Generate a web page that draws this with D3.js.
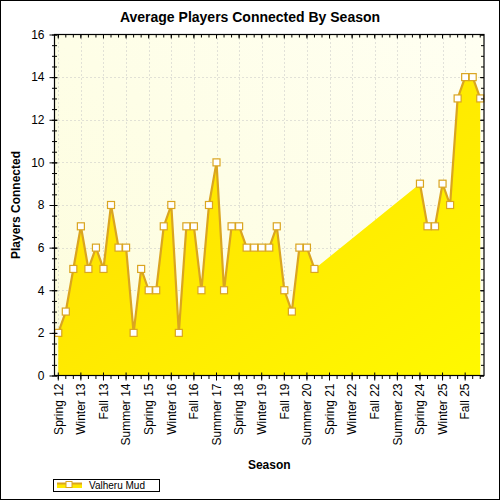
<!DOCTYPE html>
<html>
<head>
<meta charset="utf-8">
<script src="https://cdn.jsdelivr.net/npm/d3@7"></script>
<style>
  html, body { margin: 0; padding: 0; background: #fff; }
  svg { display: block; font-family: "Liberation Sans", Arial, sans-serif; }
</style>
</head>
<body>
<svg id="chart" width="500" height="500"></svg>
<script>
// ---- data ----
const categories = [
  "Spring 12","Summer 12","Fall 12","Winter 13",
  "Spring 13","Summer 13","Fall 13","Winter 14",
  "Spring 14","Summer 14","Fall 14","Winter 15",
  "Spring 15","Summer 15","Fall 15","Winter 16",
  "Spring 16","Summer 16","Fall 16","Winter 17",
  "Spring 17","Summer 17","Fall 17","Winter 18",
  "Spring 18","Summer 18","Fall 18","Winter 19",
  "Spring 19","Summer 19","Fall 19","Winter 20",
  "Spring 20","Summer 20","Fall 20","Winter 21",
  "Spring 21","Summer 21","Fall 21","Winter 22",
  "Spring 22","Summer 22","Fall 22","Winter 23",
  "Spring 23","Summer 23","Fall 23","Winter 24",
  "Spring 24","Summer 24","Fall 24","Winter 25",
  "Spring 25","Summer 25","Fall 25","Winter 26",
  "Spring 26"
];
const playersConnected = [
  2,3,5,7,5,6,5,8,6,6,2,5,4,4,7,8,2,7,7,4,
  8,10,4,7,7,6,6,6,6,7,4,3,6,6,5,
  null,null,null,null,null,null,null,null,null,null,null,null,null,
  9,7,7,9,8,13,14,14,13
];
const xTickLabels = [
  "Spring 12","Winter 13","Fall 13","Summer 14","Spring 15","Winter 16","Fall 16",
  "Summer 17","Spring 18","Winter 19","Fall 19","Summer 20","Spring 21","Winter 22",
  "Fall 22","Summer 23","Spring 24","Winter 25","Fall 25"
];
const yTicks = [0,2,4,6,8,10,12,14,16];
const yMinorTicks = [0,0.5,1,1.5,2,2.5,3,3.5,4,4.5,5,5.5,6,6.5,7,7.5,8,8.5,9,9.5,10,10.5,11,11.5,12,12.5,13,13.5,14,14.5,15,15.5,16];
const seriesName = "Valheru Mud";
const title = "Average Players Connected By Season";
const xTitle = "Season";
const yTitle = "Players Connected";

// ---- layout ----
const L = 54.5, R = 484, T = 34.5, B = 375.5;
const LINE = "#DAA520";

const svg = d3.select("#chart");
const data = categories.map((c, i) => ({ c, v: playersConnected[i] }));

const x = d3.scaleBand().domain(categories).range([L, R]).padding(0);
const cx = c => x(c) + x.bandwidth() / 2;
const y = d3.scaleLinear().domain([0, 16]).range([B, T]);

// defs
const defs = svg.append("defs");
const bg = defs.append("linearGradient").attr("id", "bg")
  .attr("x1", 0).attr("y1", 1).attr("x2", 1).attr("y2", 0);
bg.append("stop").attr("offset", 0).attr("stop-color", "#FDFDDC");
bg.append("stop").attr("offset", 1).attr("stop-color", "#FFFFF2");
const ag = defs.append("linearGradient").attr("id", "areaGrad")
  .attr("x1", 0).attr("y1", 0).attr("x2", 1).attr("y2", 1);
ag.append("stop").attr("offset", 0).attr("stop-color", "#FFDB00");
ag.append("stop").attr("offset", 1).attr("stop-color", "#FFF900");

// outer border
svg.append("rect").attr("x", 0.5).attr("y", 0.5).attr("width", 499).attr("height", 499)
  .attr("fill", "#fff").attr("stroke", "#000").attr("stroke-width", 1);

// plot background
svg.append("rect").attr("x", L).attr("y", T).attr("width", R - L).attr("height", B - T)
  .attr("fill", "url(#bg)");

// grid
const grid = svg.append("g").attr("stroke", "#C4C4C4").attr("stroke-width", 1)
  .attr("stroke-dasharray", "1,3");
grid.selectAll("line.h").data(yTicks.slice(1, -1)).enter().append("line")
  .attr("x1", L).attr("x2", R)
  .attr("y1", d => Math.round(y(d)) + 0.5).attr("y2", d => Math.round(y(d)) + 0.5);
grid.selectAll("line.v").data(xTickLabels).enter().append("line")
  .attr("x1", d => Math.round(cx(d)) + 0.5).attr("x2", d => Math.round(cx(d)) + 0.5)
  .attr("y1", T).attr("y2", B);

// area (fills across missing seasons)
const defined = data.filter(d => d.v != null);
const area = d3.area().x(d => cx(d.c)).y0(y(0)).y1(d => y(d.v));
svg.append("path").datum(defined).attr("d", area).attr("fill", "url(#areaGrad)");

// line (broken over missing seasons)
const line = d3.line().defined(d => d.v != null).x(d => cx(d.c)).y(d => y(d.v));
svg.append("path").datum(data).attr("d", line).attr("fill", "none")
  .attr("stroke", LINE).attr("stroke-width", 2.2).attr("stroke-linejoin", "round");

// markers
svg.selectAll("rect.m").data(defined).enter().append("rect")
  .attr("x", d => cx(d.c) - 3.5).attr("y", d => y(d.v) - 3.5)
  .attr("width", 7).attr("height", 7)
  .attr("fill", "#fff").attr("stroke", LINE).attr("stroke-width", 1.2);

// axes
function noDomain(g) { g.select(".domain").remove(); }
const axG = svg.append("g").attr("font-size", 12).attr("font-family", "Liberation Sans, Arial, sans-serif");

// left axis
axG.append("g").attr("transform", `translate(${L},0)`)
  .call(d3.axisLeft(y).tickValues(yTicks).tickSize(5).tickPadding(5).tickFormat(d3.format("d")))
  .call(noDomain)
  .call(g => g.selectAll("text").attr("fill", "#000").attr("font-size", 12))
  .call(g => g.selectAll("line").attr("stroke", "#000"));
axG.append("g").attr("transform", `translate(${L},0)`)
  .call(d3.axisRight(y).tickValues(yTicks).tickSize(3).tickFormat(""))
  .call(noDomain);
axG.append("g").attr("transform", `translate(${L},0)`)
  .call(d3.axisLeft(y).tickValues(yMinorTicks).tickSize(2.5).tickFormat(""))
  .call(noDomain);
axG.append("g").attr("transform", `translate(${L},0)`)
  .call(d3.axisRight(y).tickValues(yMinorTicks).tickSize(2.5).tickFormat(""))
  .call(noDomain);

// right axis (inner ticks)
axG.append("g").attr("transform", `translate(${R},0)`)
  .call(d3.axisLeft(y).tickValues(yMinorTicks).tickSize(3).tickFormat(""))
  .call(noDomain);
axG.append("g").attr("transform", `translate(${R},0)`)
  .call(d3.axisLeft(y).tickValues(yTicks).tickSize(4).tickFormat(""))
  .call(noDomain);

// bottom axis
const xb = axG.append("g").attr("transform", `translate(0,${B})`);
xb.append("g").call(d3.axisBottom(x).tickValues(categories).tickSize(3.5).tickFormat(""))
  .call(noDomain);
xb.append("g").call(d3.axisBottom(x).tickValues(xTickLabels).tickSize(5).tickPadding(4))
  .call(noDomain)
  .call(g => g.selectAll("text")
    .attr("fill", "#000").attr("font-size", 12)
    .attr("text-anchor", "end")
    .attr("transform", "rotate(-90)")
    .attr("x", -8).attr("y", 0).attr("dy", "0.36em"));
xb.append("g").call(d3.axisTop(x).tickValues(xTickLabels).tickSize(3).tickFormat(""))
  .call(noDomain);

// top axis (inner ticks)
const xt = axG.append("g").attr("transform", `translate(0,${T})`);
xt.append("g").call(d3.axisBottom(x).tickValues(categories).tickSize(3).tickFormat(""))
  .call(noDomain);
xt.append("g").call(d3.axisBottom(x).tickValues(xTickLabels).tickSize(4).tickFormat(""))
  .call(noDomain);

// frame lines of the plot
svg.append("rect").attr("x", L).attr("y", T).attr("width", R - L).attr("height", B - T)
  .attr("fill", "none").attr("stroke", "#000").attr("stroke-width", 1.2);

// titles
svg.append("text").attr("x", 250).attr("y", 22).attr("text-anchor", "middle")
  .attr("font-size", 14).attr("font-weight", "bold").attr("fill", "#000").text(title);
svg.append("text").attr("x", (L + R) / 2).attr("y", 469).attr("text-anchor", "middle")
  .attr("font-size", 12).attr("font-weight", "bold").attr("fill", "#000").text(xTitle);
svg.append("text").attr("transform", `translate(20,${(T + B) / 2}) rotate(-90)`)
  .attr("text-anchor", "middle")
  .attr("font-size", 12).attr("font-weight", "bold").attr("fill", "#000").text(yTitle);

// legend
const lg = svg.append("g");
lg.append("rect").attr("x", 53.5).attr("y", 479.5).attr("width", 106).attr("height", 12)
  .attr("fill", "#fff").attr("stroke", "#000").attr("stroke-width", 1);
lg.append("rect").attr("x", 57).attr("y", 483).attr("width", 25).attr("height", 5)
  .attr("fill", "#FFE800");
lg.append("line").attr("x1", 57).attr("x2", 82).attr("y1", 483.5).attr("y2", 483.5)
  .attr("stroke", LINE).attr("stroke-width", 2);
lg.append("rect").attr("x", 66).attr("y", 481.5).attr("width", 6).attr("height", 6)
  .attr("fill", "#fff").attr("stroke", LINE).attr("stroke-width", 1);
lg.append("text").attr("x", 89).attr("y", 489).attr("font-size", 10).attr("fill", "#000")
  .text(seriesName);
</script>
</body>
</html>
